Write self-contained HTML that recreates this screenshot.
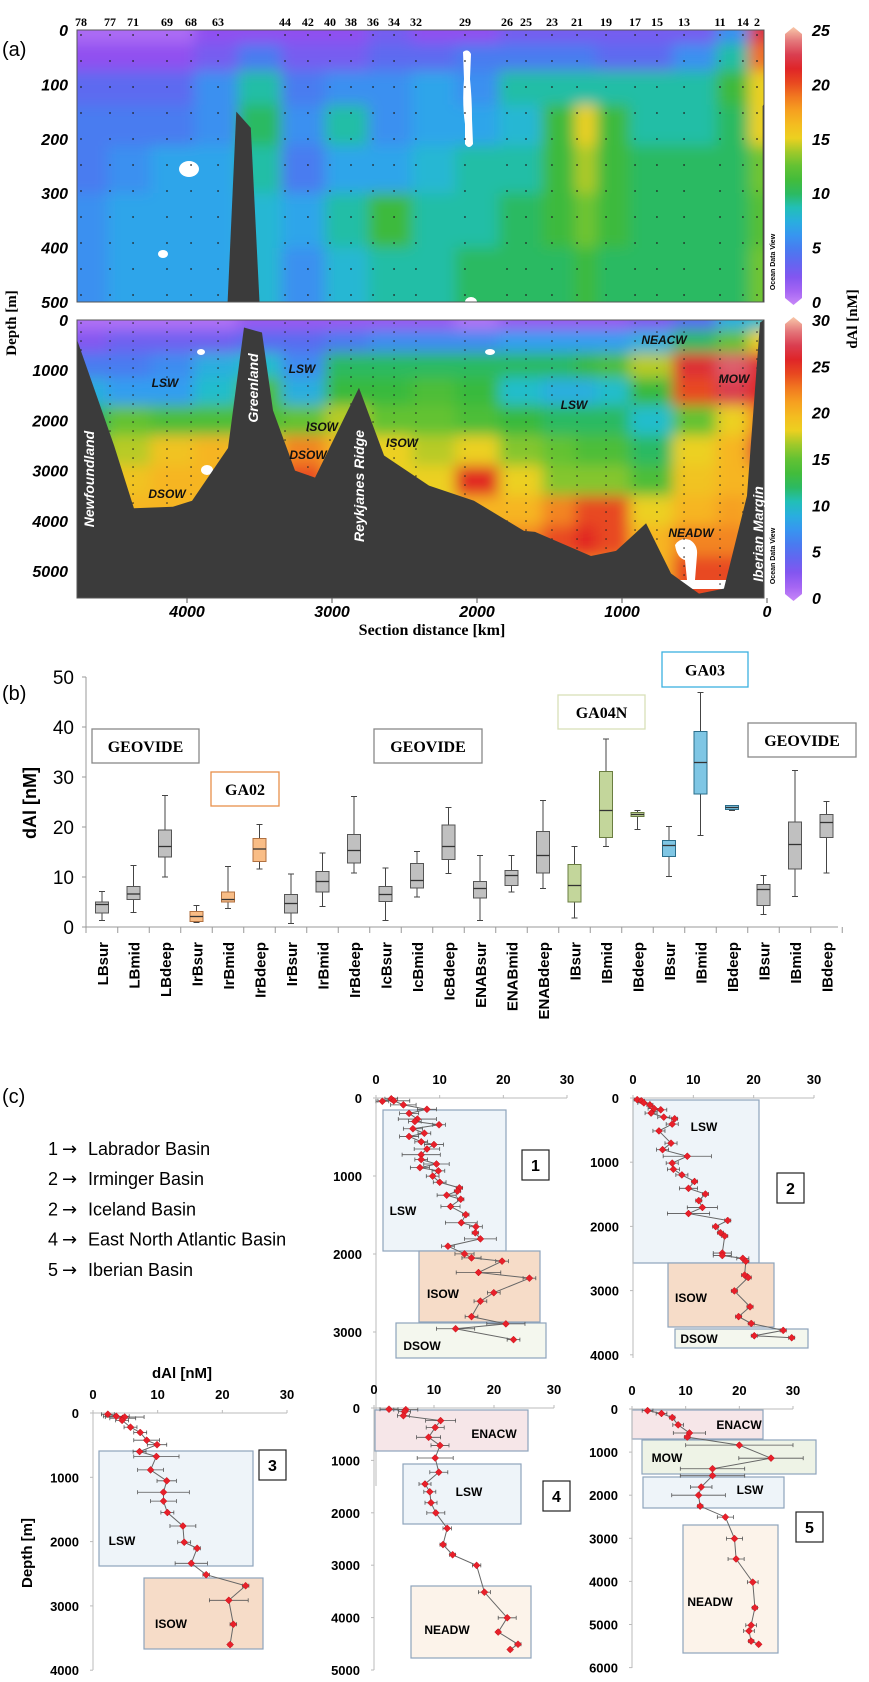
<!DOCTYPE html>
<html><head><meta charset="utf-8"><title>dAl figure</title>
<style>
html,body{margin:0;padding:0;background:#fff;}
svg{display:block;font-family:"Liberation Sans",sans-serif;}
</style></head>
<body>
<svg id="fig" width="869" height="1682" viewBox="0 0 869 1682" xmlns="http://www.w3.org/2000/svg"></svg>
<script>
// ===== Panel (a) data =====
const stationLabels=["78","77","71","69","68","63","44","42","40","38","36","34","32","29","26","25","23","21","19","17","15","13","11","14","2"];
const stationKm=[4731,4531,4372,4138,3972,3786,3324,3166,3014,2869,2717,2572,2421,2083,1793,1662,1483,1310,1110,910,759,572,324,166,69];
const gridKm=[4700,4400,4100,3800,3500,3200,2900,2600,2300,2000,1700,1400,1250,1100,800,500,200,50];
const topDepths=[0,50,100,175,250,350,450];
const topVals=[
[1,1,1,2,2,2,2,3,2,2,3,3,3,3,3,3,6,22],
[2,2,2,3,5,3,3,4,4,5,5,5,5,4,4,6,9,19],
[4,4,4,6,9,5,6,6,7,6,9,9,9,9,9,9,11,15],
[5,5,5,6,10,6,9,6,7,7,8,11,15,11,9,9,10,15],
[5,6,7,7,9,5,7,7,8,9,9,11,14,11,10,10,10,13],
[6,7,7,7,8,7,9,11,9,9,10,11,13,11,10,10,10,12],
[6,7,7,7,8,6,8,9,9,10,10,10,11,10,10,10,10,13]];
const botDepths=[0,400,900,1400,2000,2600,3200,3800,4400,5000,5500];
const botVals=[
[1,1,1,1,2,2,2,2,2,1,2,2,2,2,3,5,9,10],
[3,4,4,4,5,5,6,7,7,7,8,8,8,8,9,12,15,18],
[6,6,7,9,10,7,12,12,12,12,12,12,13,14,17,26,28,26],
[9,8,8,10,14,9,13,13,14,13,10,9,9,10,13,24,27,25],
[12,15,14,14,14,15,17,15,15,14,13,12,12,12,10,15,18,22],
[15,17,19,20,18,22,20,18,17,18,16,15,14,14,12,18,20,26],
[18,19,20,20,20,24,20,18,18,25,18,16,16,16,14,19,20,20],
[20,20,20,20,20,22,20,18,18,20,20,22,24,24,18,20,21,20],
[20,20,20,20,20,22,20,20,20,20,22,24,25,24,20,22,22,20],
[20,20,20,20,20,20,20,20,20,20,22,22,22,22,20,24,24,20],
[20,20,20,20,20,20,20,20,20,20,22,22,22,22,20,24,24,20]];
const bathyTopKm=[4760,4760,4510,3720,3660,3560,3500,3450];
const bathyTopD=[380,500,500,500,150,180,500,500];
const bathyBotKm=[4760,4503,4366,4097,3965,3717,3607,3483,3407,3255,3117,2814,2641,2331,2021,1676,1600,1214,1041,834,662,469,297,138,48,20];
const bathyBotD=[380,2500,3750,3720,3600,2550,150,250,1800,3000,3140,1350,2700,3300,3600,4200,4220,4700,4600,4050,5050,5450,5350,3500,50,0];
const xTicksKm=[4000,3000,2000,1000,0];
const topDepthTicks=[0,100,200,300,400,500];
const botDepthTicks=[0,1000,2000,3000,4000,5000];
const cbTopTicks=[0,5,10,15,20,25];
const cbBotTicks=[0,5,10,15,20,25,30];

// ===== Panel (b) data =====
const boxCats=["LBsur","LBmid","LBdeep","IrBsur","IrBmid","IrBdeep","IrBsur","IrBmid","IrBdeep","IcBsur","IcBmid","IcBdeep","ENABsur","ENABmid","ENABdeep","IBsur","IBmid","IBdeep","IBsur","IBmid","IBdeep","IBsur","IBmid","IBdeep"];
const boxGroup=["g","g","g","o","o","o","g","g","g","g","g","g","g","g","g","v","v","v","b","b","b","g","g","g"];
const boxMin=[1.3,2.9,10,0.9,3.7,11.6,0.7,4.1,10.8,1.3,6,10.7,1.3,7,7.7,1.8,16.1,19.5,10.1,18.3,23.3,2.5,6.1,10.8];
const boxQ1=[2.8,5.5,14,1.1,5,13.1,2.8,7,12.8,5.1,7.8,13.5,5.8,8.3,10.8,5,17.9,22.1,14.1,26.6,23.5,4.3,11.6,17.9];
const boxMed=[4.5,6.6,16.1,2.1,5.5,15.6,4.7,9.1,15.3,6.5,9.3,16.1,7.7,10.3,14.3,8.3,23.3,22.5,16.3,32.9,23.9,7.5,16.5,20.9];
const boxQ3=[5,8.1,19.4,3.1,7,17.7,6.5,11.1,18.5,8.1,12.7,20.4,9.1,11.3,19.1,12.5,31.1,22.9,17.3,39.1,24.3,8.5,21,22.5];
const boxMax=[7.1,12.3,26.3,4.3,12.1,20.5,10.6,14.8,26.1,11.8,15.1,23.9,14.3,14.3,25.3,16.1,37.6,23.3,20.1,46.9,24.3,10.3,31.3,25.1];
const bTicks=[0,10,20,30,40,50];

// ===== Panel (c) data =====
const p1v=[1,2.4,2.8,4.3,8,5.2,6.5,6.1,9.9,5.8,7.6,5.2,7.1,9.1,8,7.1,7.1,9.5,6.9,9.8,8.9,10,13.1,12.8,11.1,13.3,11.7,14.1,13.4,15.7,15.6,16.4,11.3,13.9,15,19.8,16.1,24.1,18.5,16.4,15,20.4,12.5,21.6];
const p1d=[42,10,36,88,145,197,270,301,343,394,452,493,561,597,654,727,789,846,893,934,1002,1080,1152,1194,1246,1298,1391,1495,1599,1650,1728,1806,1900,1998,2050,2092,2237,2310,2496,2605,2803,2896,2958,3098];
const p1e=[1,1,2.5,2,1.5,1.5,3,1,1,1.5,1,1.5,1,1.5,2,3,1,2,1.5,1,1,1,0.5,0.5,1.5,0.5,1.5,0.5,2.5,1,0.5,2.5,1,1.5,1.5,1,3.5,1,1,1,1,3,3,1];
const p2v=[0.7,1.4,1.8,2.8,3.5,4.6,3,5.1,6.9,6.5,4.3,6.3,4.9,9,6.5,6.7,8.1,10.2,9.2,12,10.9,11.5,9.2,15.7,13.7,14.5,15.2,14.8,14.8,18.2,18.7,18.5,19.1,16.8,19.4,17.5,19.6,24.9,20.1,26.3];
const p2d=[25,44,76,108,165,184,235,298,323,406,513,704,805,907,1014,1110,1198,1300,1407,1496,1598,1705,1800,1908,2003,2099,2149,2415,2454,2498,2542,2758,2796,3005,3252,3405,3512,3620,3703,3734];
const p2e=[0.5,0.5,1,0.5,1,1,1,1,0.5,1,1,1,1,4,1,1,1,0.5,1.5,0.5,0.5,2.5,3.5,0.5,0.5,0.5,0.5,1.5,1.5,1,0.5,0.5,0.5,0.5,0.5,0.5,0.5,0.5,0.5,0.5];
const p3v=[2.3,3.6,4.6,4.9,4.5,5.8,7.3,8.3,9.9,7.2,9.8,8.9,11.4,10.9,10.9,11.5,13.9,14.1,16.1,15.2,17.5,23.6,21,21.7,21.2];
const p3d=[19,51,82,63,114,221,303,423,493,600,676,885,1055,1232,1371,1548,1757,2010,2104,2338,2515,2686,2913,3286,3602];
const p3e=[1,2,2,3,1,1,1,2,1.5,1,3.5,2,1.5,4,2,1,2,1,0.5,2.5,0.5,0.5,3,0.5,0.3];
const p4v=[2.5,5.3,5.1,4.9,11.1,10.2,9.1,11,10.2,10.8,8.5,9.3,9.5,10.3,12.2,11.5,13.1,17.1,18.4,22.2,20.7,24,22.7];
const p4d=[23,31,70,147,241,372,559,714,954,1226,1451,1599,1808,2002,2297,2607,2801,3003,3515,4004,4276,4509,4609];
const p4e=[1.5,2,1,1,2.5,1.5,2,1.5,3,1.5,1,1,1,1.5,0.7,0.5,0.5,0.7,1,1.5,0.3,0.5,0.3];
const p5v=[2.9,5.5,7.5,8.6,10.7,10.3,20,25.9,15,15,12.9,12.4,12.7,17.4,19.1,19.4,22.5,22.9,22.2,21.8,22.2,23.6];
const p5d=[38,104,198,368,556,651,839,1141,1386,1547,1811,2000,2254,2508,3008,3480,4017,4611,5017,5149,5385,5460];
const p5e=[1,1,0.5,1,3,0.5,10,6,6,6,2,5,0.5,1.5,1.5,1.5,1,0.5,1,1,0.5,0.3];
const basinNums=["1","2","2","4","5"];
const basinNames=["Labrador Basin","Irminger Basin","Iceland Basin","East North Atlantic Basin","Iberian Basin"];

// ===== drawing =====
const NS='http://www.w3.org/2000/svg';
const svg=document.getElementById('fig');
function mk(tag,attrs,parent){const e=document.createElementNS(NS,tag);for(const k in attrs)e.setAttribute(k,attrs[k]);(parent||svg).appendChild(e);return e;}
function txt(s,attrs,parent){const e=mk('text',attrs,parent);e.textContent=s;return e;}

const cmStops=[[0,'#c888f8'],[0.08,'#9050f0'],[0.18,'#5070f0'],[0.27,'#30a0f0'],[0.34,'#20c0c8'],[0.42,'#30b840'],[0.52,'#70c430'],[0.6,'#ecd020'],[0.68,'#f8b020'],[0.76,'#f07020'],[0.84,'#e02020'],[0.92,'#d84860'],[1,'#f8c8a8']];
function hex(c){return [parseInt(c.substr(1,2),16),parseInt(c.substr(3,2),16),parseInt(c.substr(5,2),16)];}
function cmap(t){t=Math.max(0,Math.min(1,t));for(let i=1;i<cmStops.length;i++){if(t<=cmStops[i][0]){const a=cmStops[i-1],b=cmStops[i];const f=(t-a[0])/(b[0]-a[0]);const ca=hex(a[1]),cb=hex(b[1]);return 'rgb('+ca.map((v,j)=>Math.round(v+(cb[j]-v)*f)).join(',')+')';}}return cmStops[cmStops.length-1][1];}

const defs=mk('defs',{});
const blur=mk('filter',{id:'blur',x:'-20%',y:'-20%',width:'140%',height:'140%'},defs);
mk('feGaussianBlur',{stdDeviation:'7'},blur);
const cpT=mk('clipPath',{id:'clipTop'},defs);mk('rect',{x:77,y:30,width:687,height:272},cpT);
const cpB=mk('clipPath',{id:'clipBot'},defs);mk('rect',{x:77,y:320,width:687,height:278},cpB);

const xKm=km=>767-km*0.145;
const yTop=d=>30+d*(272/500);
const yBot=d=>320+d*(251/5000);
const PL=77,PR=764;

function heat(depths,vals,yf,y0,y1,vmax,clip,name){
  const outer=mk('g',{'clip-path':'url(#'+clip+')'});
  
  
  const g=mk('g',{filter:'url(#blur)'},outer);
  for(let r=0;r<depths.length;r++){
    const ya=r===0?y0-30:(yf(depths[r-1])+yf(depths[r]))/2;
    const yb=r===depths.length-1?y1+30:(yf(depths[r])+yf(depths[r+1]))/2;
    for(let c=0;c<gridKm.length;c++){
      const xa=c===0?PL-30:(xKm(gridKm[c-1])+xKm(gridKm[c]))/2;
      const xb=c===gridKm.length-1?PR+30:(xKm(gridKm[c])+xKm(gridKm[c+1]))/2;
      const cell=mk('rect',{x:xa,y:ya,width:xb-xa+0.5,height:yb-ya+0.5,fill:cmap(vals[r][c]/vmax)},g);
      
      
    }
  }
  return outer;
}
heat(topDepths,topVals,yTop,30,302,25,'clipTop','upper-section-heatmap');
heat(botDepths,botVals,yBot,320,598,30,'clipBot','full-section-heatmap');

// white blobs (no data)
const wb=mk('g',{fill:'#fff','clip-path':'url(#clipTop)'});


mk('path',{d:'M463,52 q5,-4 8,2 l-1,25 q2,20 2,40 l1,25 q-4,6 -8,0 l0,-20 q-3,-20 -1,-45 z'},wb);
mk('ellipse',{cx:189,cy:169,rx:10,ry:8},wb);
mk('ellipse',{cx:163,cy:254,rx:5,ry:4},wb);
mk('ellipse',{cx:471,cy:302,rx:6,ry:5},wb);
const wb2=mk('g',{fill:'#fff','clip-path':'url(#clipBot)'});


mk('ellipse',{cx:201,cy:352,rx:4,ry:3},wb2);
mk('ellipse',{cx:490,cy:352,rx:5,ry:3},wb2);
mk('ellipse',{cx:207,cy:470,rx:6,ry:5},wb2);
mk('path',{d:'M675,545 q5,-8 15,-5 q8,5 7,15 l-2,25 l46,0 l0,9 l-84,0 l0,-9 l30,0 l-2,-20 q-8,-2 -10,-15 z'},wb2);

// station dots
const dots=mk('g',{fill:'#222'});


stationKm.forEach(km=>{
  const x=xKm(km);
  for(let y=35;y<300;y+=26) mk('circle',{cx:x,cy:y,r:0.9},dots);
  for(let y=323;y<595;y+=9) mk('circle',{cx:x,cy:y,r:0.8},dots);
});

(function(){
  const g=mk('g',{fill:'#3b3b3b','clip-path':'url(#clipTop)'});
  
  
  mk('polygon',{points:[xKm(bathyTopKm[0])+','+yTop(bathyTopD[0]),xKm(bathyTopKm[1])+','+yTop(bathyTopD[1]),xKm(bathyTopKm[2])+','+yTop(bathyTopD[2])].join(' ')+' '+(PL)+',302'},g);
  mk('polygon',{points:[3,4,5,6].map(i=>xKm(bathyTopKm[i])+','+yTop(bathyTopD[i])).join(' ')},g);
  mk('polygon',{points:xKm(30)+',302 '+xKm(30)+','+yTop(140)+' '+PR+','+yTop(135)+' '+PR+',302'},g);
})();
(function(){
  const g=mk('g',{'clip-path':'url(#clipBot)'});
  
  
  let pts=bathyBotKm.map((k,i)=>xKm(k)+','+yBot(bathyBotD[i]));
  pts.push(PR+',320',PR+',600',PL+',600',PL+','+yBot(380));
  mk('polygon',{points:pts.join(' '),fill:'#3b3b3b'},g);
})();

mk('rect',{x:PL,y:30,width:PR-PL,height:272,fill:'none',stroke:'#555','stroke-width':1});
mk('rect',{x:PL,y:320,width:PR-PL,height:278,fill:'none',stroke:'#555','stroke-width':1});

stationKm.forEach((km,i)=>{
  const t=txt(stationLabels[i],{x:xKm(km),y:26,'text-anchor':'middle','font-family':'Liberation Serif,serif','font-size':12,'font-weight':'bold'});
  
  
});
topDepthTicks.forEach(d=>{
  const t=txt(String(d),{x:68,y:yTop(d)+6,'text-anchor':'end','font-size':16,'font-weight':'bold','font-style':'italic'});
  
  
});
botDepthTicks.forEach(d=>{
  const t=txt(String(d),{x:68,y:yBot(d)+6,'text-anchor':'end','font-size':16,'font-weight':'bold','font-style':'italic'});
  
  
});
xTicksKm.forEach(k=>{
  mk('line',{x1:xKm(k),x2:xKm(k),y1:598,y2:603,stroke:'#555'});
  const t=txt(String(k),{x:xKm(k),y:617,'text-anchor':'middle','font-size':16,'font-weight':'bold','font-style':'italic'});
  
  
});
let t;
t=txt('Section distance [km]',{x:432,y:635,'text-anchor':'middle','font-family':'Liberation Serif,serif','font-size':16,'font-weight':'bold'});

t=txt('Depth [m]',{x:0,y:0,transform:'translate(16,323) rotate(-90)','text-anchor':'middle','font-family':'Liberation Serif,serif','font-size':15,'font-weight':'bold'});

t=txt('(a)',{x:2,y:56,'font-size':20});


const cbg=mk('linearGradient',{id:'cbgrad',x1:0,y1:1,x2:0,y2:0},defs);
for(let i=0;i<=20;i++) mk('stop',{offset:i/20,'stop-color':cmap(i/20)},cbg);
function cbar(y0,y1,ticks,vmax,name){
  const g=mk('g',{});
  
  
  mk('path',{d:`M785,${y0+4} L793.5,${y0-3} L802,${y0+4} L802,${y1-4} L793.5,${y1+3} L785,${y1-4} Z`,fill:'url(#cbgrad)'},g);
  ticks.forEach(v=>{
    const tt=txt(String(v),{x:812,y:y1-(y1-y0)*v/vmax+6,'font-size':16,'font-weight':'bold','font-style':'italic'},g);
    
    
  });
}
cbar(30,302,cbTopTicks,25,'colorbar-upper');
cbar(320,598,cbBotTicks,30,'colorbar-section');
t=txt('dAl [nM]',{x:0,y:0,transform:'translate(857,319) rotate(-90)','text-anchor':'middle','font-family':'Liberation Serif,serif','font-size':15,'font-weight':'bold'});

[[262],[556]].forEach(p=>{const o=txt('Ocean Data View',{x:0,y:0,transform:`translate(775,${p[0]}) rotate(-90)`,'text-anchor':'middle','font-size':7,'font-weight':'bold'});});

[['Newfoundland',89,479],['Greenland',253,388],['Reykjanes Ridge',359,486],['Iberian Margin',758,534]].forEach(a=>{
  const l=txt(a[0],{x:0,y:0,transform:`translate(${a[1]+5},${a[2]}) rotate(-90)`,'text-anchor':'middle',fill:'#fff','font-size':14,'font-weight':'bold','font-style':'italic'});
  
});
[['LSW',165,382],['LSW',302,368],['LSW',574,404],['DSOW',167,493],['DSOW',308,454],['ISOW',322,426],['ISOW',402,442],['NEACW',664,339],['MOW',734,378],['NEADW',691,532]].forEach(a=>{
  const l=txt(a[0],{x:a[1],y:a[2]+5,'text-anchor':'middle','font-size':12,'font-weight':'bold','font-style':'italic',fill:'#111'});
  
});

// ===== Panel (b) =====
const yB=v=>927-v*5;
const xB=i=>102+i*31.5;
t=txt('(b)',{x:2,y:700,'font-size':20});

mk('line',{x1:86,x2:86,y1:yB(50),y2:yB(0),stroke:'#999'});
mk('line',{x1:86,x2:838,y1:yB(0),y2:yB(0),stroke:'#999'});
bTicks.forEach(v=>{
  mk('line',{x1:82,x2:86,y1:yB(v),y2:yB(v),stroke:'#999'});
  const l=txt(String(v),{x:74,y:yB(v)+7,'text-anchor':'end','font-size':19});
  
});
t=txt('dAl [nM]',{x:0,y:0,transform:'translate(36,803) rotate(-90)','text-anchor':'middle','font-size':18,'font-weight':'bold'});

const gcol={g:['#c0c0c0','#555'],o:['#f9bd86','#b07040'],v:['#c3d69b','#6a7d40'],b:['#7fc6e4','#2a6d8a']};
boxCats.forEach((c,i)=>{
  const x=xB(i);
  mk('line',{x1:x+15.75,x2:x+15.75,y1:yB(0),y2:yB(0)+6,stroke:'#999'});
  const g=mk('g',{});
  
  
  const col=gcol[boxGroup[i]];
  mk('line',{x1:x,x2:x,y1:yB(boxMax[i]),y2:yB(boxMin[i]),stroke:'#444','stroke-width':1},g);
  mk('line',{x1:x-3,x2:x+3,y1:yB(boxMax[i]),y2:yB(boxMax[i]),stroke:'#444'},g);
  mk('line',{x1:x-3,x2:x+3,y1:yB(boxMin[i]),y2:yB(boxMin[i]),stroke:'#444'},g);
  mk('rect',{x:x-6.5,y:yB(boxQ3[i]),width:13,height:Math.max(1.5,yB(boxQ1[i])-yB(boxQ3[i])),fill:col[0],stroke:col[1],'stroke-width':1},g);
  mk('line',{x1:x-6.5,x2:x+6.5,y1:yB(boxMed[i]),y2:yB(boxMed[i]),stroke:'#333','stroke-width':1.3},g);
  const l=txt(c,{x:0,y:0,transform:`translate(${x+6},942) rotate(-90)`,'text-anchor':'end','font-size':15,'font-weight':'bold'});
  
});
mk('line',{x1:86,x2:86,y1:yB(0),y2:yB(0)+6,stroke:'#999'});
[['GEOVIDE',92,729,107,34,'#888'],['GA02',211,772,68,34,'#e8904a'],['GEOVIDE',374,729,108,34,'#888'],['GA04N',558,695,87,34,'#d8e0b8'],['GA03',662,652,86,35,'#3bb0e0'],['GEOVIDE',748,723,108,34,'#888']].forEach(a=>{
  const g=mk('g',{});
  
  
  mk('rect',{x:a[1],y:a[2],width:a[3],height:a[4],fill:'#fff',stroke:a[5],'stroke-width':1.3},g);
  txt(a[0],{x:a[1]+a[3]/2,y:a[2]+a[4]/2+6,'text-anchor':'middle','font-family':'Liberation Serif,serif','font-size':16,'font-weight':'bold'},g);
});

// ===== Panel (c) =====
t=txt('(c)',{x:2,y:1103,'font-size':20});

basinNames.forEach((n,i)=>{
  const y=1155+i*30.2;
  const l=txt(basinNums[i],{x:48,y:y,'font-size':18});
  
  const a=txt('\u2192',{x:62,y:y,'font-family':'DejaVu Sans,sans-serif','font-size':18});
  
  const m=txt(n,{x:88,y:y,'font-size':18});
  
});
function profile(cfg,vals,deps,errs){
  const g=mk('g',{});
  
  
  const X=v=>cfg.x0+v*(cfg.x30-cfg.x0)/30;
  const Y=d=>cfg.y0+d*cfg.pk/1000;
  cfg.boxes.forEach(b=>{
    const r=mk('rect',{x:b[1],y:b[2],width:b[3]-b[1],height:b[4]-b[2],fill:b[5],stroke:'#8ea4bc','stroke-width':1.2},g);
    
    
    const l=txt(b[0],{x:b[6],y:b[7]+5,'text-anchor':'middle','font-size':12,'font-weight':'bold'},g);
    
  });
  mk('line',{x1:cfg.x0,x2:cfg.x30,y1:cfg.y0,y2:cfg.y0,stroke:'#bbb'},g);
  mk('line',{x1:cfg.x0,x2:cfg.x0,y1:cfg.y0,y2:cfg.yEnd,stroke:'#bbb'},g);
  [0,10,20,30].forEach(v=>{
    mk('line',{x1:X(v),x2:X(v),y1:cfg.y0-3,y2:cfg.y0,stroke:'#bbb'},g);
    const l=txt(String(v),{x:X(v),y:cfg.y0-14,'text-anchor':'middle','font-size':13,'font-weight':'bold'},g);
    
  });
  cfg.dticks.forEach(d=>{
    mk('line',{x1:cfg.x0-3,x2:cfg.x0,y1:Y(d),y2:Y(d),stroke:'#bbb'},g);
    const l=txt(String(d),{x:cfg.x0-14,y:Y(d)+5,'text-anchor':'end','font-size':13,'font-weight':'bold'},g);
    
  });
  const eg=mk('g',{stroke:'#555','stroke-width':0.8},g);
  vals.forEach((v,i)=>{
    const e=errs[i]||0;
    if(e>0){mk('line',{x1:X(v-e),x2:X(v+e),y1:Y(deps[i]),y2:Y(deps[i])},eg);
      mk('line',{x1:X(v-e),x2:X(v-e),y1:Y(deps[i])-2,y2:Y(deps[i])+2},eg);
      mk('line',{x1:X(v+e),x2:X(v+e),y1:Y(deps[i])-2,y2:Y(deps[i])+2},eg);}
  });
  const ln=mk('polyline',{points:vals.map((v,i)=>X(v)+','+Y(deps[i])).join(' '),fill:'none',stroke:'#666','stroke-width':1},g);
  
  
  vals.forEach((v,i)=>{
    const p=mk('path',{d:`M${X(v)},${Y(deps[i])-3.5} l3.5,3.5 l-3.5,3.5 l-3.5,-3.5 z`,fill:'#e8202a',stroke:'#c01018','stroke-width':0.5},g);
    
    
  });
  const nb=mk('rect',{x:cfg.nb[0],y:cfg.nb[1],width:27,height:30,fill:'#fff',stroke:'#222','stroke-width':1.2},g);
  
  const nt=txt(cfg.id,{x:cfg.nb[0]+13.5,y:cfg.nb[1]+21,'text-anchor':'middle','font-size':16,'font-weight':'bold'},g);
  
}
const BL='#eef4f9',OR='#f6dcc8',GR='#f4f7ee',PK='#f6e6e8',PE='#fcf3ea',MG='#eef3e6';
profile({id:'1',x0:376,x30:567,y0:1098,pk:78,yEnd:1486,dticks:[0,1000,2000,3000],nb:[522,1150],
  boxes:[['LSW',383,1110,506,1251,BL,403,1210],['ISOW',419,1251,540,1322,OR,443,1293],['DSOW',396,1323,546,1358,GR,422,1345]]},p1v,p1d,p1e);
profile({id:'2',x0:633,x30:814,y0:1098,pk:64.2,yEnd:1358,dticks:[0,1000,2000,3000,4000],nb:[777,1173],
  boxes:[['LSW',633,1100,759,1263,BL,704,1126],['ISOW',668,1263,774,1327,OR,691,1297],['DSOW',675,1329,808,1348,GR,699,1338]]},p2v,p2d,p2e);
profile({id:'3',x0:93,x30:287,y0:1413,pk:64.3,yEnd:1670,dticks:[0,1000,2000,3000,4000],nb:[259,1450],
  boxes:[['LSW',99,1451,253,1566,BL,122,1540],['ISOW',144,1578,263,1649,OR,171,1623]]},p3v,p3d,p3e);
profile({id:'4',x0:374,x30:554,y0:1408,pk:52.4,yEnd:1670,dticks:[0,1000,2000,3000,4000,5000],nb:[543,1481],
  boxes:[['ENACW',375,1410,528,1451,PK,494,1433],['LSW',403,1464,521,1524,BL,469,1491],['NEADW',411,1586,531,1658,PE,447,1629]]},p4v,p4d,p4e);
profile({id:'5',x0:632,x30:793,y0:1409,pk:43.1,yEnd:1668,dticks:[0,1000,2000,3000,4000,5000,6000],nb:[796,1512],
  boxes:[['ENACW',632,1410,763,1439,PK,739,1424],['MOW',642,1440,816,1474,MG,667,1457],['LSW',643,1477,784,1508,BL,750,1489],['NEADW',683,1525,778,1653,PE,710,1601]]},p5v,p5d,p5e);
t=txt('dAl [nM]',{x:182,y:1378,'text-anchor':'middle','font-size':15,'font-weight':'bold'});

t=txt('Depth [m]',{x:0,y:0,transform:'translate(32,1553) rotate(-90)','text-anchor':'middle','font-size':15,'font-weight':'bold'});

</script>
</body></html>
